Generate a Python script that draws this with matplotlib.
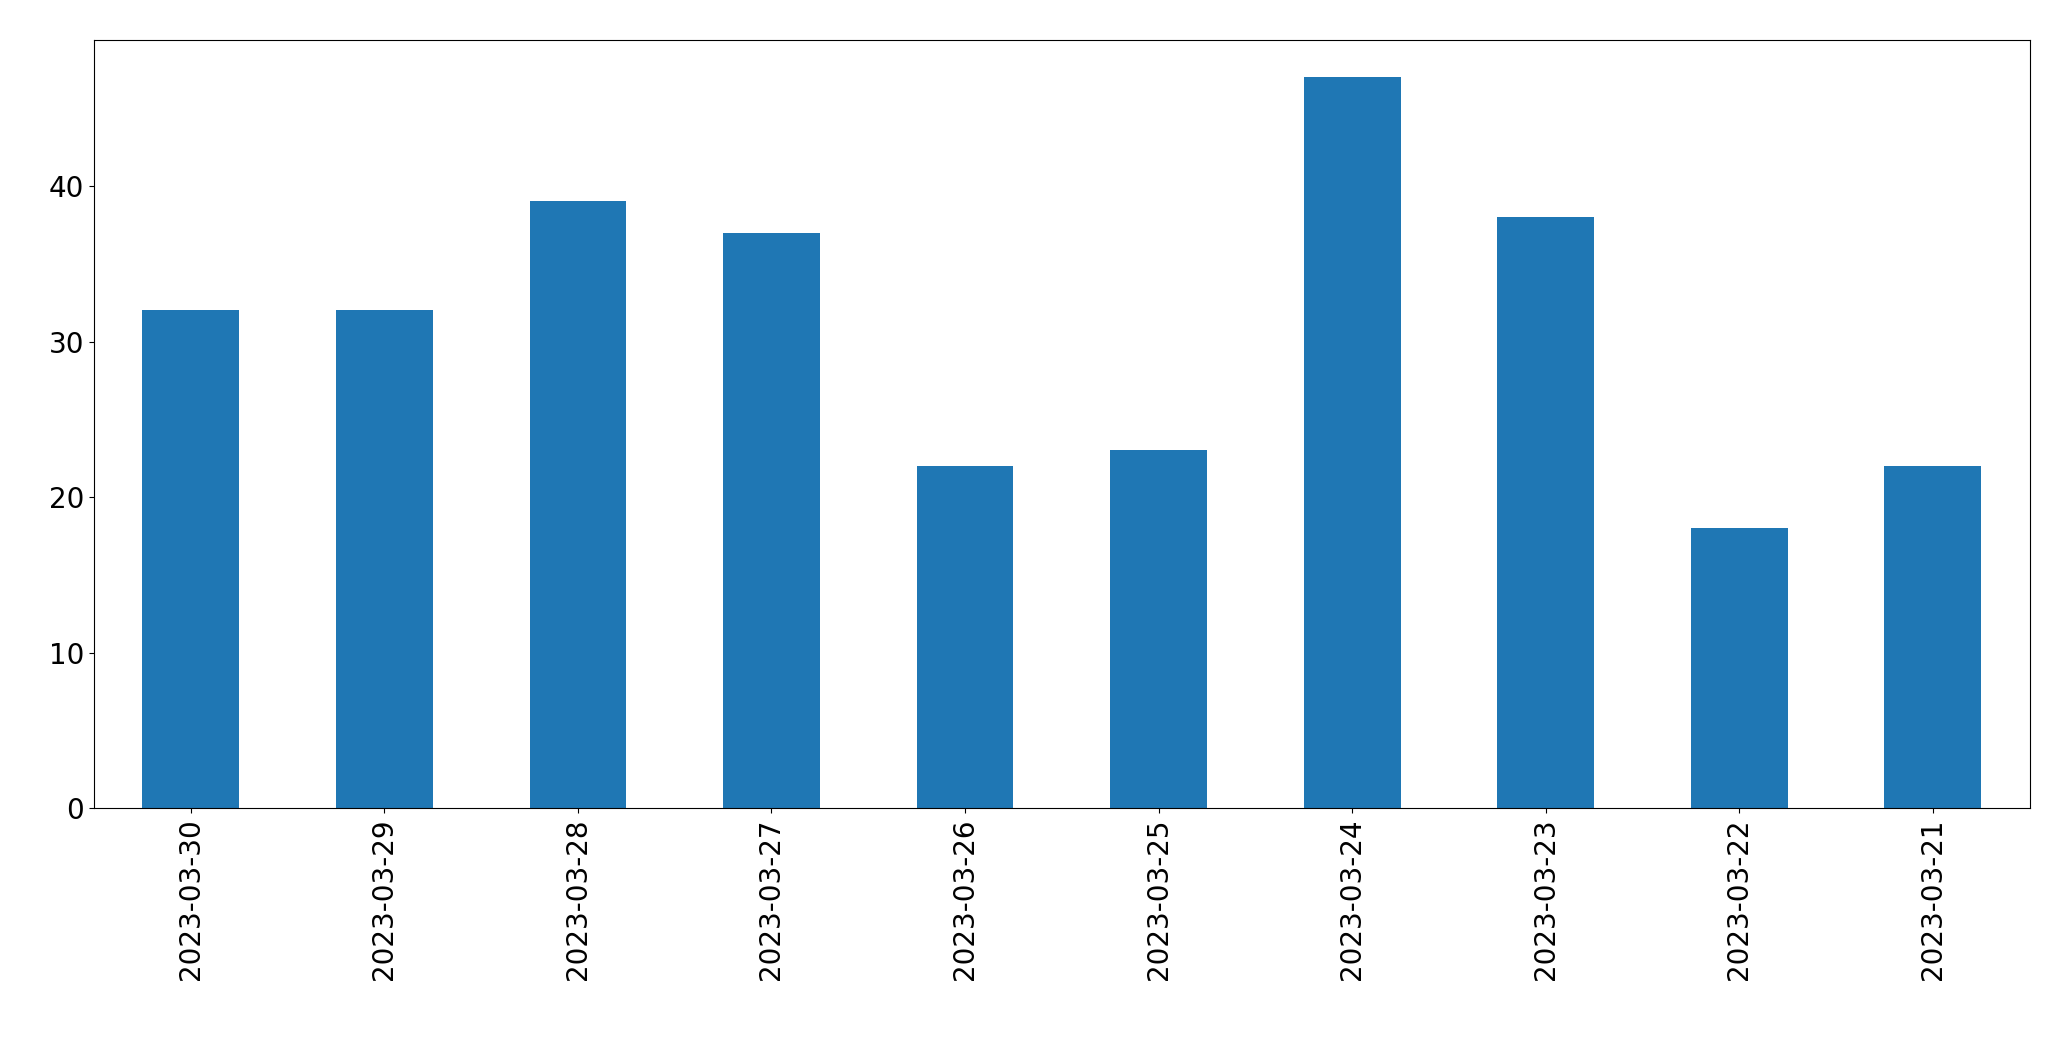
import matplotlib
matplotlib.use("Agg")
import matplotlib.pyplot as plt

dates = ["2023-03-30","2023-03-29","2023-03-28","2023-03-27","2023-03-26",
         "2023-03-25","2023-03-24","2023-03-23","2023-03-22","2023-03-21"]
counts = [32,32,39,37,22,23,47,38,18,22]

fig = plt.figure(figsize=(20.71,10.61), dpi=100)
ax = fig.add_axes([0.0454,0.238,0.9346,0.724])
x = range(len(dates))
ax.bar(x, counts, width=0.5, color="#1f77b4")
ax.set_xticks(list(x))
ax.set_xticklabels(dates, rotation=90)
ax.set_xlim(-0.5, len(dates)-0.5)
ax.set_ylim(0, max(counts)*1.05)
ax.set_yticks([0,10,20,30,40])
ax.tick_params(labelsize=20)
fig.savefig("out.png", dpi=100)
